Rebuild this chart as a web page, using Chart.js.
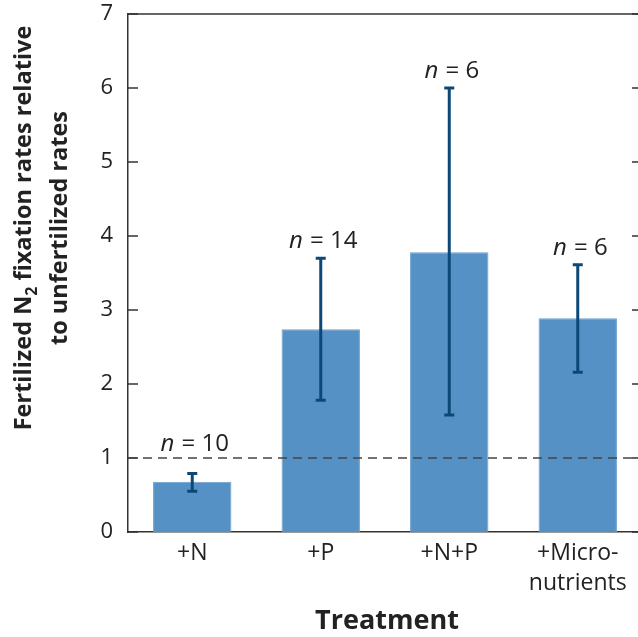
<!DOCTYPE html>
<html>
<head>
<meta charset="utf-8">
<script src="https://cdn.jsdelivr.net/npm/chart.js@4.4.0/dist/chart.umd.min.js"></script>
<style>
  html, body { margin: 0; padding: 0; background: #fff; overflow: hidden; }
  #wrap { width: 660px; height: 637px; }
</style>
</head>
<body>
<div id="wrap"><canvas id="chart"></canvas></div>
<script>
// data
var treatments = [['+N'], ['+P'], ['+N+P'], ['+Micro-', 'nutrients']];
var ratios = [0.68, 2.74, 3.78, 2.89];
var errLow = [0.55, 1.78, 1.58, 2.16];
var errHigh = [0.79, 3.70, 6.00, 3.61];
var sampleN = [10, 14, 6, 6];
var yTicks = [0, 1, 2, 3, 4, 5, 6, 7];
var refLine = 1;

var FONT = '"Open Sans", "DejaVu Sans", sans-serif';
var ink = '#333333';

var extras = {
  id: 'extras',
  afterDatasetsDraw: function(chart) {
    var ctx = chart.ctx;
    var area = chart.chartArea;
    var y = chart.scales.y;
    var x = chart.scales.x;

    ctx.save();
    // frame: top and right
    ctx.strokeStyle = ink;
    ctx.lineWidth = 1.5;
    ctx.beginPath();
    ctx.moveTo(area.left, area.top);
    ctx.lineTo(area.right, area.top);
    ctx.lineTo(area.right, area.bottom);
    ctx.stroke();

    // inward ticks on both sides
    yTicks.forEach(function(v) {
      var py = y.getPixelForValue(v);
      ctx.beginPath();
      ctx.moveTo(area.left, py);
      ctx.lineTo(area.left + 10, py);
      ctx.moveTo(area.right, py);
      ctx.lineTo(area.right - 10, py);
      ctx.stroke();
    });

    // dashed reference line
    var ry = y.getPixelForValue(refLine);
    ctx.setLineDash([9, 6]);
    ctx.strokeStyle = '#444';
    ctx.lineWidth = 1.3;
    ctx.beginPath();
    ctx.moveTo(area.left, ry);
    ctx.lineTo(area.right, ry);
    ctx.stroke();
    ctx.setLineDash([]);

    // error bars
    ctx.strokeStyle = '#0c4877';
    ctx.lineWidth = 3;
    for (var i = 0; i < ratios.length; i++) {
      var px = x.getPixelForValue(i);
      var top = y.getPixelForValue(errHigh[i]);
      var bot = y.getPixelForValue(errLow[i]);
      ctx.beginPath();
      ctx.moveTo(px, top);
      ctx.lineTo(px, bot);
      ctx.moveTo(px - 5, top);
      ctx.lineTo(px + 5, top);
      ctx.moveTo(px - 5, bot);
      ctx.lineTo(px + 5, bot);
      ctx.stroke();

      // n = ... labels (kept above the dashed line)
      var ly = Math.min(top, ry) - (top > ry ? 14 : 17);
      var rest = ' = ' + sampleN[i];
      ctx.fillStyle = '#222';
      ctx.textBaseline = 'middle';
      ctx.font = 'italic 24px ' + FONT;
      var wn = ctx.measureText('n').width;
      ctx.font = '24px ' + FONT;
      var wr = ctx.measureText(rest).width;
      var sx = px - (wn + wr) / 2 + 2;
      ctx.textAlign = 'left';
      ctx.font = 'italic 24px ' + FONT;
      ctx.fillText('n', sx, ly);
      ctx.font = '24px ' + FONT;
      ctx.fillText(rest, sx + wn + 1, ly);
    }

    // x title
    ctx.fillStyle = '#222';
    ctx.textAlign = 'center';
    ctx.textBaseline = 'middle';
    ctx.font = 'bold 27px ' + FONT;
    ctx.fillText('Treatment', (area.left + area.right) / 2 + 2, 621);

    // y title, two lines with subscript
    ctx.translate(0, 228);
    ctx.rotate(-Math.PI / 2);
    ctx.font = 'bold 23.5px ' + FONT;
    var a = 'Fertilized N', b = '2', c = ' fixation rates relative';
    var wa = ctx.measureText(a).width, wc = ctx.measureText(c).width;
    ctx.font = 'bold 16px ' + FONT;
    var wb = ctx.measureText(b).width;
    var start = -(wa + wb + wc) / 2;
    ctx.textAlign = 'left';
    ctx.font = 'bold 23.5px ' + FONT;
    ctx.fillText(a, start, 24);
    ctx.font = 'bold 16px ' + FONT;
    ctx.fillText(b, start + wa, 32);
    ctx.font = 'bold 23.5px ' + FONT;
    ctx.fillText(c, start + wa + wb, 24);
    ctx.textAlign = 'center';
    ctx.fillText('to unfertilized rates', 0, 60);
    ctx.restore();
  }
};

var ctx = document.getElementById('chart');
var chart = new Chart(ctx, {
  type: 'bar',
  data: {
    labels: treatments,
    datasets: [{
      data: ratios,
      backgroundColor: '#5591c4',
      borderColor: '#6ba0cf',
      borderWidth: 1,
      barPercentage: 0.61,
      categoryPercentage: 1
    }]
  },
  options: {
    responsive: true,
    maintainAspectRatio: false,
    animation: false,
    layout: { padding: { left: 0, right: 18, top: 14, bottom: 0 } },
    plugins: { legend: { display: false }, tooltip: { enabled: false } },
    scales: {
      x: {
        grid: { display: false, drawTicks: false },
        border: { display: true, color: ink, width: 1.5 },
        ticks: { color: '#222', font: { family: FONT, size: 23, lineHeight: 1.3 }, padding: 7, maxRotation: 0 },
        afterFit: function(s) { s.height = 105; s.paddingLeft = 0; s.paddingRight = 0; }
      },
      y: {
        min: 0,
        max: 7,
        afterBuildTicks: function(s) { s.ticks = yTicks.map(function(v) { return { value: v }; }); },
        grid: { display: false, drawTicks: false },
        border: { display: true, color: ink, width: 1.5 },
        ticks: { color: '#222', font: { family: FONT, size: 22 }, padding: 15 },
        afterFit: function(s) { s.width = 128; s.paddingTop = 0; s.paddingBottom = 0; }
      }
    }
  },
  plugins: [extras]
});
</script>
</body>
</html>
